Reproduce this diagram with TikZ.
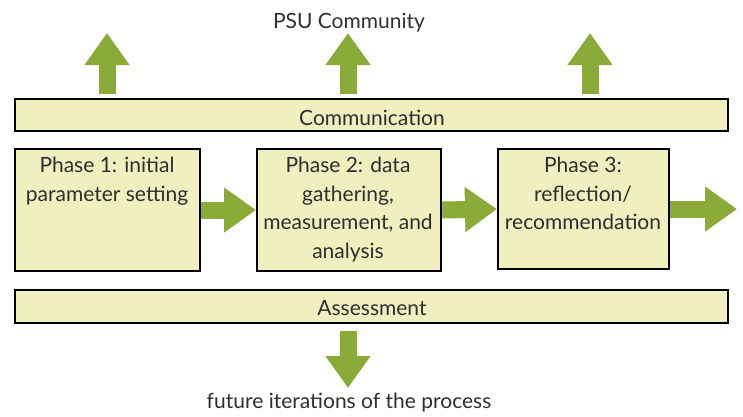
\documentclass[tikz,border=0pt]{standalone}
\usepackage{fontspec}
\setmainfont{Lato}
\usetikzlibrary{arrows.meta}
\definecolor{boxfill}{HTML}{EFEFC0}
\definecolor{arrowgreen}{HTML}{8AAB38}
\definecolor{txtgray}{HTML}{2E2E2E}
\tikzset{
  bar/.style={draw=black, line width=2pt, fill=boxfill, anchor=north west, inner sep=0pt},
  phasebox/.style={draw=black, line width=2pt, fill=boxfill, anchor=north west, inner sep=0pt},
  txt/.style={text=txtgray, font=\fontsize{21}{28.5}\selectfont, align=center, inner sep=0pt},
  bigarrow/.style={draw=arrowgreen, line width=17pt, -{Triangle[length=32pt,width=43pt]}, arrowgreen}
}
\begin{document}
\begin{tikzpicture}[x=1pt,y=-1pt]
\useasboundingbox (0,0) rectangle (743,416);
% bars
\node[bar, minimum width=713pt, minimum height=32pt] (comm) at (14,98) {};
\node[txt, anchor=base] (commt) at (372,125) {Communication};
\node[bar, minimum width=713pt, minimum height=33pt] (assess) at (14,289) {};
\node[txt, anchor=base] (assesst) at (372,315) {Assessment};
% phase boxes
\node[phasebox, minimum width=185pt, minimum height=122pt] (p1) at (14,148) {};
\node[phasebox, minimum width=184pt, minimum height=122pt] (p2) at (256,148) {};
\node[phasebox, minimum width=171pt, minimum height=120pt] (p3) at (497,148) {};
\node[txt, anchor=north] (p1t) at (107,157) {Phase 1: initial\\parameter setting};
\node[txt, anchor=north] (p2t) at (348,157) {Phase 2: data\\gathering,\\measurement, and\\analysis};
\node[txt, anchor=north] (p3t) at (583,157) {Phase 3:\\reflection/\\recommendation};
% texts
\node[txt, anchor=base] (psu) at (349,28) {PSU Community};
\node[txt, anchor=base] (future) at (349,408) {future iterations of the process};
% coordinates for arrow ends
\coordinate (u1) at (107,33);
\coordinate (u2) at (348,33);
\coordinate (u3) at (590,33);
\coordinate (r3) at (737,209);
\coordinate (d1) at (348,388);
% arrows
\draw[bigarrow] (comm.north west -| u1) ++(0,-4) coordinate (u1s) -- (u1);
\draw[bigarrow] (comm.north west -| u2) ++(0,-4) coordinate (u2s) -- (u2);
\draw[bigarrow] (comm.north west -| u3) ++(0,-4) coordinate (u3s) -- (u3);
\draw[bigarrow] (p1.east) -- (p2.west);
\draw[bigarrow] (p2.east) -- (p3.west);
\draw[bigarrow] (p3.east) -- (r3);
\draw[bigarrow] (assess.south west -| d1) ++(0,7) coordinate (d1s) -- (d1);
\end{tikzpicture}
\end{document}
